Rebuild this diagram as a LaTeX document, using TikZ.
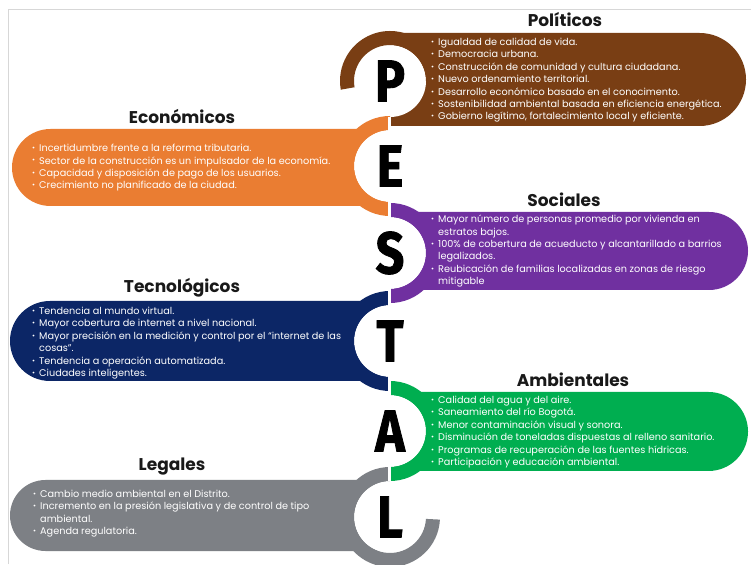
\documentclass[tikz,border=0pt]{standalone}
\usepackage{fontspec}
\setmainfont{Poppins}
\newfontfamily\letterfont{Fira Sans}[BoldFeatures={FakeBold=1.5}]
\definecolor{cbrown}{RGB}{121,62,20}
\definecolor{corange}{RGB}{234,125,50}
\definecolor{cpurple}{RGB}{112,48,160}
\definecolor{cnavy}{RGB}{12,38,102}
\definecolor{cgreen}{RGB}{0,174,80}
\definecolor{cgray}{RGB}{125,128,133}
\definecolor{cframe}{RGB}{215,215,215}
\definecolor{ctitle}{RGB}{25,25,25}
\newcommand{\bitem}[1]{\makebox[7pt][l]{\raisebox{1.1pt}{\scalebox{0.75}{\textbullet}}}#1}
\newcommand{\citem}[1]{\hspace*{7pt}#1}
\newcommand{\annulus}[4]{\fill[#1] ([shift={(#3:50)}]#2) arc[start angle=#3,end angle=#4,radius=50] -- ([shift={(#4:36)}]#2) arc[start angle=#4,end angle=#3,radius=36] -- cycle;}
\begin{document}
\begin{tikzpicture}[x=1pt,y=1pt,
  titlebox/.style={font=\fontsize{17}{17}\selectfont\bfseries, text=ctitle, inner sep=0},
  bodybox/.style={font=\fontsize{9.7}{12.4}\selectfont, text=white, align=left, anchor=north west, inner sep=0},
  letterbox/.style={font=\letterfont\bfseries\fontsize{59}{59}\selectfont, text=black, inner sep=0},
  hole/.style={fill=white}]
\useasboundingbox (0,0) rectangle (751,564);
\fill[white] (0,0) rectangle (751,564);
% frame
\draw[cframe, line width=1] (8,0) -- (8,554) -- (751,554);
% centers
\coordinate (cP) at (390,483);
\coordinate (cE) at (390,398);
\coordinate (cS) at (390,311);
\coordinate (cT) at (390,223);
\coordinate (cA) at (390,133);
\coordinate (cL) at (390,47);
% pills
\fill[cbrown] (389,438) -- (699.5,438) arc[start angle=-90,end angle=90,radius=46.5] -- (389,531) -- cycle;
\fill[corange] (389,358) -- (50.5,358) arc[start angle=270,end angle=90,radius=38.5] -- (389,435) -- cycle;
\fill[cpurple] (389,274) -- (709,274) arc[start angle=-90,end angle=90,radius=39] -- (389,352) -- cycle;
\fill[cnavy] (389,183) -- (50,183) arc[start angle=270,end angle=90,radius=40] -- (389,263) -- cycle;
\fill[cgreen] (389,93) -- (708.5,93) arc[start angle=-90,end angle=90,radius=39.5] -- (389,172) -- cycle;
\fill[cgray] (389,13) -- (45.5,13) arc[start angle=270,end angle=90,radius=35.5] -- (389,84) -- cycle;
% holes
\foreach \c in {cP,cE,cS,cT,cA,cL} \fill[hole] (\c) circle[radius=36];
% rings
\annulus{cbrown}{cP}{0}{190}
\annulus{corange}{cE}{90}{270}
\annulus{cpurple}{cS}{-90}{90}
\annulus{cnavy}{cT}{90}{270}
\annulus{cgreen}{cA}{-90}{90}
\annulus{cgray}{cL}{90}{357}
% gap
\draw[white, line width=2.5] (389.5,447) -- (389.5,83);
% letters
\node[letterbox] (lP) at (cP) {\scalebox{0.85}[1]{P}};
\node[letterbox] (lE) at (cE) {\scalebox{0.85}[1]{E}};
\node[letterbox] (lS) at (cS) {\scalebox{0.85}[1]{S}};
\node[letterbox] (lT) at (cT) {\scalebox{0.85}[1]{T}};
\node[letterbox] (lA) at (cA) {\scalebox{0.85}[1]{A}};
\node[letterbox] (lL) at (cL) {\scalebox{0.85}[1]{L}};
% titles
\node[titlebox] (tP) at (565,544) {Políticos};
\node[titlebox] (tE) at (182,448) {Económicos};
\node[titlebox] (tS) at (564,364) {Sociales};
\node[titlebox] (tT) at (182,276) {Tecnológicos};
\node[titlebox] (tA) at (573,184) {Ambientales};
\node[titlebox] (tL) at (172,97) {Legales};
% bodies
\node[bodybox] (bP) at (431,526) {\bitem{Igualdad de calidad de vida.}\\
\bitem{Democracia urbana.}\\
\bitem{Construcción de comunidad y cultura ciudadana.}\\
\bitem{Nuevo ordenamiento territorial.}\\
\bitem{Desarrollo económico basado en el conocimento.}\\
\bitem{Sostenibilidad ambiental basada en eficiencia energética.}\\
\bitem{Gobierno legítimo, fortalecimiento local y eficiente.}};
\node[bodybox] (bE) at (32,420) {\bitem{Incertidumbre frente a la reforma tributaria.}\\
\bitem{Sector de la construcción es un impulsador de la economía.}\\
\bitem{Capacidad y disposición de pago de los usuarios.}\\
\bitem{Crecimiento no planificado de la ciudad.}};
\node[bodybox] (bS) at (431,349) {\bitem{Mayor número de personas promedio por vivienda en}\\
\citem{estratos bajos.}\\
\bitem{100\% de cobertura de acueducto y alcantarillado a barrios}\\
\citem{legalizados.}\\
\bitem{Reubicación de familias localizadas en zonas de riesgo}\\
\citem{mitigable}};
\node[bodybox] (bT) at (32,257) {\bitem{Tendencia al mundo virtual.}\\
\bitem{Mayor cobertura de internet a nivel nacional.}\\
\bitem{Mayor precisión en la medición y control por el “internet de las}\\
\citem{cosas”.}\\
\bitem{Tendencia a operación automatizada.}\\
\bitem{Ciudades inteligentes.}};
\node[bodybox] (bA) at (431,168) {\bitem{Calidad del agua y del aire.}\\
\bitem{Saneamiento del río Bogotá.}\\
\bitem{Menor contaminación visual y sonora.}\\
\bitem{Disminución de toneladas dispuestas al relleno sanitario.}\\
\bitem{Programas de recuperación de las fuentes hídricas.}\\
\bitem{Participación y educación ambiental.}};
\node[bodybox] (bL) at (33,74) {\bitem{Cambio medio ambiental en el Distrito.}\\
\bitem{Incremento en la presión legislativa y de control de tipo}\\
\citem{ambiental.}\\
\bitem{Agenda regulatoria.}};
\end{tikzpicture}
\end{document}
